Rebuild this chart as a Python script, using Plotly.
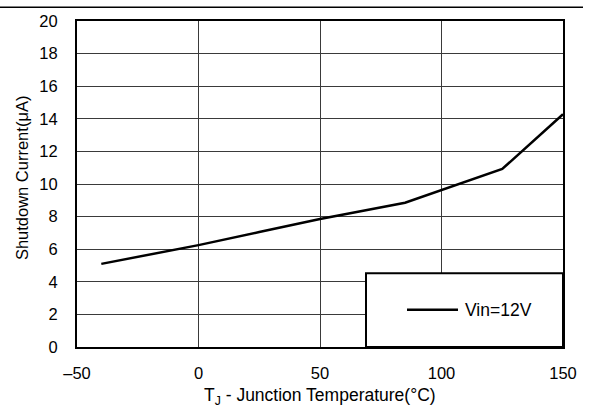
import plotly.graph_objects as go

# Shutdown current vs junction temperature, Vin = 12 V
temp_c = [-40, 0, 25, 50, 85, 125, 150]
shutdown_ua = [5.1, 6.25, 7.05, 7.85, 8.85, 10.92, 14.28]

x_ticks = [-50, 0, 50, 100, 150]
x_tick_text = ["–50", "0", "50", "100", "150"]
y_ticks = [0, 2, 4, 6, 8, 10, 12, 14, 16, 18, 20]
series_name = "Vin=12V"

FONT = "Liberation Sans, Arial, sans-serif"

fig = go.Figure()
fig.add_trace(go.Scatter(
    x=temp_c, y=shutdown_ua, mode="lines", name=series_name,
    line=dict(color="black", width=2.5), showlegend=False,
))

# Plot area is 486 x 332 px; helpers convert pixel offsets to paper units
L, T, W, H = 77, 15, 486, 332
def px(xp):
    return (xp - L) / W
def py(yp):
    return (T + H - yp) / H

shapes = [
    # rule across the top of the page
    dict(type="line", xref="paper", yref="paper", x0=px(0), x1=px(583),
         y0=py(1), y1=py(1), line=dict(color="black", width=1.5)),
    # legend box
    dict(type="rect", xref="paper", yref="paper", x0=px(366), x1=1.0,
         y0=0.0, y1=py(272), fillcolor="white",
         line=dict(color="black", width=2), layer="above"),
    # legend sample line
    dict(type="line", xref="paper", yref="paper", x0=px(407), x1=px(458),
         y0=py(309), y1=py(309), line=dict(color="black", width=2.5),
         layer="above"),
]

annotations = [
    dict(text=series_name, xref="paper", yref="paper", x=px(463), y=py(309),
         xanchor="left", yanchor="middle", showarrow=False,
         font=dict(family=FONT, size=17.5, color="black")),
    dict(text="T<sub>J</sub> - Junction Temperature(°C)", xref="paper",
         yref="paper", x=0.5, y=py(397), xanchor="center", yanchor="middle",
         showarrow=False, font=dict(family=FONT, size=17.5, color="black")),
    dict(text="Shutdown Current(μA)", xref="paper", yref="paper",
         x=px(22), y=py(175), xanchor="center", yanchor="middle",
         textangle=-90, showarrow=False,
         font=dict(family=FONT, size=16.5, color="black")),
]

fig.update_layout(
    width=589, height=413,
    margin=dict(l=L, r=589 - L - W, t=T, b=413 - T - H),
    paper_bgcolor="white", plot_bgcolor="white",
    font=dict(family=FONT, size=16.5, color="black"),
    shapes=shapes, annotations=annotations,
    showlegend=False,
)
fig.update_xaxes(
    range=[-50, 150], tickvals=x_ticks, ticktext=x_tick_text,
    showgrid=True, gridcolor="#3a3a3a", gridwidth=1,
    showline=True, linecolor="black", linewidth=2, mirror=True,
    zeroline=False, ticks="", ticklabelstandoff=10,
    tickfont=dict(family=FONT, size=16.5, color="black"),
)
fig.update_yaxes(
    range=[0, 20], tickvals=y_ticks,
    showgrid=True, gridcolor="#3a3a3a", gridwidth=1,
    showline=True, linecolor="black", linewidth=2, mirror=True,
    zeroline=False, ticks="", ticklabelstandoff=14,
    tickfont=dict(family=FONT, size=16.5, color="black"),
)

fig.write_html("out.html")
